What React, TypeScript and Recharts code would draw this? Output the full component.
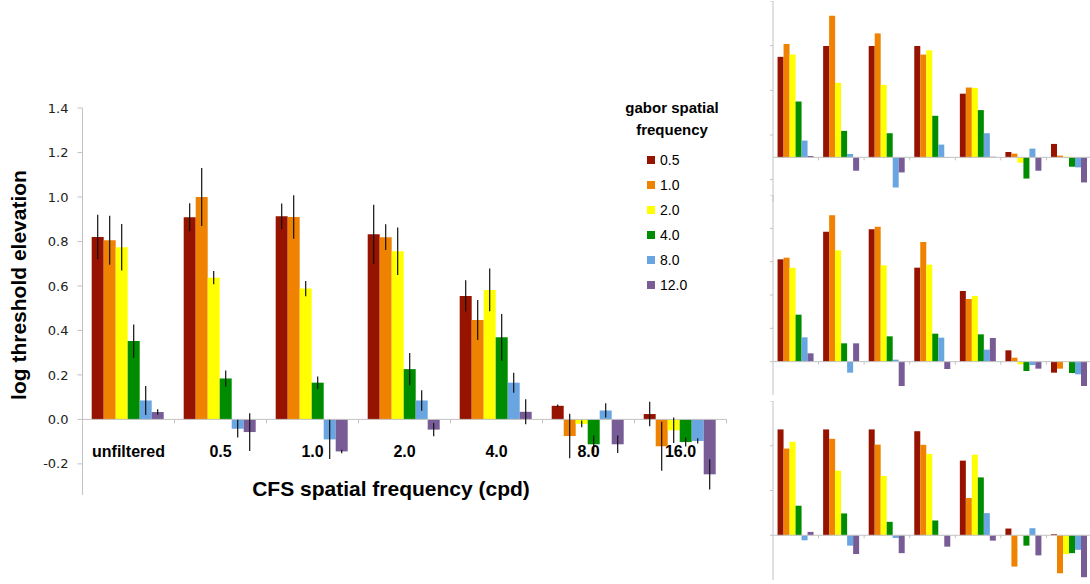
import React from 'react';
import { BarChart, Bar, XAxis, YAxis, ErrorBar, ReferenceLine, Legend } from 'recharts';

const categories = ['unfiltered', '0.5', '1.0', '2.0', '4.0', '8.0', '16.0'];
const gaborLabels = ['0.5', '1.0', '2.0', '4.0', '8.0', '12.0'];
const gaborColors = ['#961300', '#ef8200', '#ffff00', '#008c00', '#69a5e0', '#785c96'];

// mean log threshold elevation: one row per gabor frequency, one column per CFS condition
const meanElevation = [
  [0.82, 0.909, 0.913, 0.832, 0.555, 0.061, 0.024],
  [0.805, 1.0, 0.91, 0.819, 0.447, -0.075, -0.121],
  [0.774, 0.637, 0.588, 0.756, 0.582, -0.02, -0.049],
  [0.352, 0.184, 0.165, 0.226, 0.369, -0.112, -0.102],
  [0.085, -0.042, -0.09, 0.085, 0.165, 0.04, -0.097],
  [0.033, -0.057, -0.144, -0.046, 0.034, -0.112, -0.247],
];
const errElevation = [
  [0.1, 0.063, 0.058, 0.133, 0.07, 0.006, 0.055],
  [0.11, 0.13, 0.098, 0.058, 0.09, 0.1, 0.11],
  [0.105, 0.03, 0.034, 0.107, 0.096, 0.015, 0.057],
  [0.075, 0.036, 0.028, 0.073, 0.105, 0.04, 0.02],
  [0.065, 0.04, 0.088, 0.046, 0.045, 0.032, 0.012],
  [0.012, 0.085, 0.008, 0.03, 0.056, 0.039, 0.068],
];

// individual observers, same layout as above
const observerA = [
  [0.9, 0.997, 0.997, 0.997, 0.57, 0.048, 0.12],
  [1.015, 1.267, 1.11, 0.92, 0.625, 0.033, 0.015],
  [0.92, 0.667, 0.649, 0.958, 0.622, -0.048, 0.006],
  [0.5, 0.237, 0.216, 0.372, 0.423, -0.19, -0.084],
  [0.15, 0.03, -0.27, 0.114, 0.216, 0.078, -0.09],
  [0.012, -0.12, -0.135, 0.003, 0.005, -0.12, -0.225],
];
const observerB = [
  [0.614, 0.78, 0.794, 0.564, 0.424, 0.068, -0.066],
  [0.624, 0.878, 0.81, 0.718, 0.376, 0.024, -0.042],
  [0.564, 0.668, 0.578, 0.582, 0.394, -0.016, 0.002],
  [0.282, 0.11, 0.152, 0.168, 0.164, -0.056, -0.068],
  [0.146, -0.066, 0.012, 0.144, 0.072, -0.02, -0.076],
  [0.05, 0.11, -0.146, -0.044, 0.142, -0.042, -0.146],
];
const observerC = [
  [0.946, 0.946, 0.946, 0.93, 0.667, 0.06, 0.009],
  [0.775, 0.862, 0.81, 0.808, 0.333, -0.28, -0.34],
  [0.835, 0.577, 0.53, 0.727, 0.72, -0.006, -0.168],
  [0.264, 0.195, 0.12, 0.132, 0.517, -0.093, -0.16],
  [-0.045, -0.093, -0.024, -0.003, 0.198, 0.063, -0.13],
  [0.03, -0.168, -0.16, -0.102, -0.048, -0.18, -0.375],
];

const mainTicks = [-0.2, 0, 0.2, 0.4, 0.6, 0.8, 1.0, 1.2, 1.4];

const AXIS_GREY = '#c2c2c2';
const SANS = '"Liberation Sans", Arial, sans-serif';

function buildRows(means: number[][], errs?: number[][]) {
  return categories.map((cat, i) => {
    const row: Record<string, string | number> = { cat };
    gaborLabels.forEach((_, s) => {
      row[`m${s}`] = means[s][i];
      if (errs) row[`e${s}`] = errs[s][i];
    });
    return row;
  });
}

const mainRows = buildRows(meanElevation, errElevation);

const CategoryTick = ({ x, y, payload }: any) => (
  <text x={x} y={y - 40} textAnchor="middle" fontSize={16} fontWeight={700} fill="#000" fontFamily={SANS}>
    {payload.value}
  </text>
);

// side panels keep the tick marks but drop the numbers
const BlankTick = () => <g />;

const GaborLegend = ({ payload }: any) => {
  const items = [...(payload || [])].sort(
    (a: any, b: any) => gaborLabels.indexOf(a.value) - gaborLabels.indexOf(b.value),
  );
  return (
    <div style={{ fontFamily: SANS, color: '#000' }}>
      <div style={{ textAlign: 'center', fontWeight: 700, fontSize: 15, lineHeight: '22px' }}>
        gabor spatial
        <br />
        frequency
      </div>
      <div style={{ marginTop: 6 }}>
        {items.map((p: any) => (
          <div key={p.value} style={{ height: 25, display: 'flex', alignItems: 'center', paddingLeft: 47 }}>
            <span style={{ width: 8, height: 8, background: p.color, display: 'inline-block', marginRight: 5 }} />
            <span style={{ fontSize: 14 }}>{p.value}</span>
          </div>
        ))}
      </div>
    </div>
  );
};

function MainChart() {
  return (
    <BarChart
      width={760}
      height={584}
      data={mainRows}
      margin={{ top: 108, right: 33.5, bottom: 59, left: 22.5 }}
      barCategoryGap="10%"
      barGap={0}
    >
      <XAxis dataKey="cat" axisLine={false} tickLine={false} tickSize={0} height={30} interval={0} tick={<CategoryTick />} />
      <YAxis
        width={60}
        domain={[-0.34, 1.4]}
        ticks={mainTicks}
        allowDataOverflow
        tickFormatter={(v: number) => v.toFixed(1)}
        axisLine={{ stroke: AXIS_GREY }}
        tickLine={{ stroke: AXIS_GREY }}
        tickSize={5}
        tickMargin={9}
        tick={{ fontSize: 13, fill: '#222', fontFamily: '"DejaVu Sans", sans-serif' }}
      />
      <ReferenceLine y={0} stroke={AXIS_GREY} />
      {categories.map((c) => (
        <ReferenceLine key={c} segment={[{ x: c, y: 0 }, { x: c, y: -0.018 }]} position="end" stroke={AXIS_GREY} />
      ))}
      {gaborLabels.map((g, s) => (
        <Bar key={g} dataKey={`m${s}`} name={g} fill={gaborColors[s]} isAnimationActive={false}>
          <ErrorBar dataKey={`e${s}`} width={0} stroke="#111" strokeWidth={1.2} isAnimationActive={false} />
        </Bar>
      ))}
      <Legend
        layout="vertical"
        align="center"
        verticalAlign="middle"
        itemSorter={null}
        content={<GaborLegend />}
        wrapperStyle={{ left: 600, top: 97, width: 144 }}
      />
    </BarChart>
  );
}

interface SidePanelProps {
  means: number[][];
  domain: [number, number];
  top: number;
  height: number;
}

function SidePanel({ means, domain, top, height }: SidePanelProps) {
  const rows = buildRows(means);
  const ticks: number[] = [];
  for (let v = domain[0]; v <= domain[1] + 1e-9; v += 0.2) ticks.push(Math.round(v * 10) / 10);
  const pxPerUnit = height / (domain[1] - domain[0]);
  const tickDepth = 3 / pxPerUnit;
  return (
    <div style={{ position: 'absolute', left: 763, top }}>
      <BarChart width={329} height={height} data={rows} margin={{ top: 0, right: 0, bottom: 0, left: 0 }} barCategoryGap="10%" barGap={0}>
        <XAxis dataKey="cat" hide />
        <YAxis
          width={10}
          domain={domain}
          ticks={ticks}
          allowDataOverflow
          tick={<BlankTick />}
          tickSize={3}
          axisLine={{ stroke: AXIS_GREY }}
          tickLine={{ stroke: AXIS_GREY }}
        />
        <ReferenceLine y={0} stroke={AXIS_GREY} />
        {categories.map((c) => (
          <ReferenceLine key={c} segment={[{ x: c, y: 0 }, { x: c, y: -tickDepth }]} position="end" stroke={AXIS_GREY} />
        ))}
        {gaborLabels.map((g, s) => (
          <Bar key={g} dataKey={`m${s}`} name={g} fill={gaborColors[s]} isAnimationActive={false} />
        ))}
      </BarChart>
    </div>
  );
}

export default function App() {
  return (
    <div style={{ position: 'absolute', left: 0, top: 0, width: 1090, height: 584, overflow: 'hidden', background: '#fff' }}>
      <MainChart />
      <div
        style={{
          position: 'absolute',
          left: 18.5,
          top: 285,
          transform: 'translate(-50%, -50%) rotate(-90deg)',
          whiteSpace: 'nowrap',
          fontFamily: SANS,
          fontWeight: 700,
          fontSize: 21,
          color: '#000',
        }}
      >
        log threshold elevation
      </div>
      <div
        style={{
          position: 'absolute',
          left: 391,
          top: 489,
          transform: 'translate(-50%, -50%)',
          whiteSpace: 'nowrap',
          fontFamily: SANS,
          fontWeight: 700,
          fontSize: 21,
          color: '#000',
        }}
      >
        CFS spatial frequency (cpd)
      </div>
      <SidePanel means={observerA} domain={[-0.4, 1.4]} top={1} height={201} />
      <SidePanel means={observerB} domain={[-0.2, 1.0]} top={195} height={200} />
      <SidePanel means={observerC} domain={[-0.4, 1.2]} top={401} height={179} />
    </div>
  );
}
